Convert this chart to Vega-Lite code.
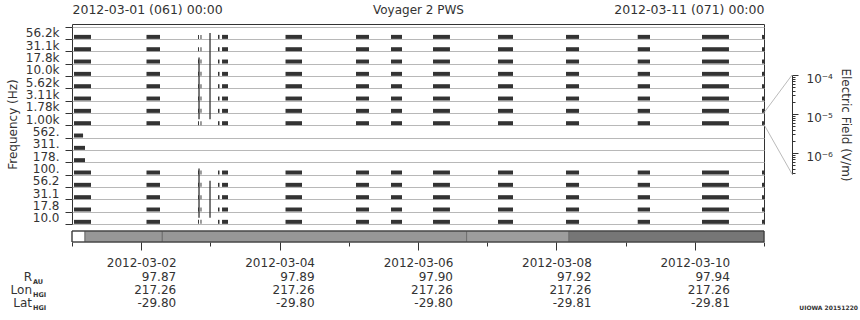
{
 "$schema": "https://vega.github.io/schema/vega-lite/v6.json",
 "width": 692,
 "height": 200,
 "autosize": "none",
 "padding": {"left": 72, "top": 24, "right": 96, "bottom": 96},
 "config": {
  "font": "DejaVu Sans",
  "view": {"stroke": "#333", "strokeWidth": 1},
  "axis": {"labelFont": "DejaVu Sans", "titleFont": "DejaVu Sans", "labelColor": "#333", "titleColor": "#333", "tickColor": "#333", "domainColor": "#333", "labelFontSize": 12, "titleFontSize": 12, "titleFontWeight": "normal", "grid": false},
  "text": {"font": "DejaVu Sans", "color": "#333"}
 },
 "resolve": {"scale": {"y": "independent"}, "axis": {"x": "independent", "y": "independent"}},
 "layer": [
  {
   "data": {"values": [
    {"c":"56.2k","s":"2012-03-01T00:42Z","e":"2012-03-01T06:35Z"},{"c":"31.1k","s":"2012-03-01T00:42Z","e":"2012-03-01T06:35Z"},{"c":"17.8k","s":"2012-03-01T00:42Z","e":"2012-03-01T06:35Z"},{"c":"10.0k","s":"2012-03-01T00:42Z","e":"2012-03-01T06:35Z"},{"c":"5.62k","s":"2012-03-01T00:42Z","e":"2012-03-01T06:35Z"},{"c":"3.11k","s":"2012-03-01T00:42Z","e":"2012-03-01T06:35Z"},{"c":"1.78k","s":"2012-03-01T00:42Z","e":"2012-03-01T06:35Z"},{"c":"1.00k","s":"2012-03-01T00:42Z","e":"2012-03-01T06:35Z"},{"c":"562.","s":"2012-03-01T00:42Z","e":"2012-03-01T03:50Z"},{"c":"311.","s":"2012-03-01T00:42Z","e":"2012-03-01T04:31Z"},{"c":"178.","s":"2012-03-01T00:42Z","e":"2012-03-01T04:31Z"},{"c":"100.","s":"2012-03-01T00:42Z","e":"2012-03-01T06:35Z"},{"c":"56.2","s":"2012-03-01T00:42Z","e":"2012-03-01T06:35Z"},{"c":"31.1","s":"2012-03-01T00:42Z","e":"2012-03-01T06:35Z"},{"c":"17.8","s":"2012-03-01T00:42Z","e":"2012-03-01T06:35Z"},{"c":"10.0","s":"2012-03-01T00:42Z","e":"2012-03-01T06:35Z"},
    {"c":"56.2k","s":"2012-03-02T01:50Z","e":"2012-03-02T06:31Z"},{"c":"31.1k","s":"2012-03-02T01:50Z","e":"2012-03-02T06:31Z"},{"c":"17.8k","s":"2012-03-02T01:50Z","e":"2012-03-02T06:31Z"},{"c":"10.0k","s":"2012-03-02T01:50Z","e":"2012-03-02T06:31Z"},{"c":"5.62k","s":"2012-03-02T01:50Z","e":"2012-03-02T06:31Z"},{"c":"3.11k","s":"2012-03-02T01:50Z","e":"2012-03-02T06:31Z"},{"c":"1.78k","s":"2012-03-02T01:50Z","e":"2012-03-02T06:31Z"},{"c":"1.00k","s":"2012-03-02T01:50Z","e":"2012-03-02T06:31Z"},{"c":"100.","s":"2012-03-02T01:50Z","e":"2012-03-02T06:31Z"},{"c":"56.2","s":"2012-03-02T01:50Z","e":"2012-03-02T06:31Z"},{"c":"31.1","s":"2012-03-02T01:50Z","e":"2012-03-02T06:31Z"},{"c":"17.8","s":"2012-03-02T01:50Z","e":"2012-03-02T06:31Z"},{"c":"10.0","s":"2012-03-02T01:50Z","e":"2012-03-02T06:31Z"},
    {"c":"56.2k","s":"2012-03-02T19:42Z","e":"2012-03-02T20:02Z"},{"c":"31.1k","s":"2012-03-02T19:42Z","e":"2012-03-02T20:02Z"},{"c":"17.8k","s":"2012-03-02T19:42Z","e":"2012-03-02T20:02Z"},{"c":"10.0k","s":"2012-03-02T19:42Z","e":"2012-03-02T20:02Z"},{"c":"5.62k","s":"2012-03-02T19:42Z","e":"2012-03-02T20:02Z"},{"c":"3.11k","s":"2012-03-02T19:42Z","e":"2012-03-02T20:02Z"},{"c":"1.78k","s":"2012-03-02T19:42Z","e":"2012-03-02T20:02Z"},{"c":"1.00k","s":"2012-03-02T19:42Z","e":"2012-03-02T20:02Z"},{"c":"100.","s":"2012-03-02T19:42Z","e":"2012-03-02T20:02Z"},{"c":"56.2","s":"2012-03-02T19:42Z","e":"2012-03-02T20:02Z"},{"c":"31.1","s":"2012-03-02T19:42Z","e":"2012-03-02T20:02Z"},{"c":"17.8","s":"2012-03-02T19:42Z","e":"2012-03-02T20:02Z"},{"c":"10.0","s":"2012-03-02T19:42Z","e":"2012-03-02T20:02Z"},
    {"c":"56.2k","s":"2012-03-02T20:34Z","e":"2012-03-02T20:54Z"},{"c":"31.1k","s":"2012-03-02T20:34Z","e":"2012-03-02T20:54Z"},{"c":"17.8k","s":"2012-03-02T20:34Z","e":"2012-03-02T20:54Z"},{"c":"10.0k","s":"2012-03-02T20:34Z","e":"2012-03-02T20:54Z"},{"c":"5.62k","s":"2012-03-02T20:34Z","e":"2012-03-02T20:54Z"},{"c":"3.11k","s":"2012-03-02T20:34Z","e":"2012-03-02T20:54Z"},{"c":"1.78k","s":"2012-03-02T20:34Z","e":"2012-03-02T20:54Z"},{"c":"1.00k","s":"2012-03-02T20:34Z","e":"2012-03-02T20:54Z"},{"c":"100.","s":"2012-03-02T20:34Z","e":"2012-03-02T20:54Z"},{"c":"56.2","s":"2012-03-02T20:34Z","e":"2012-03-02T20:54Z"},{"c":"31.1","s":"2012-03-02T20:34Z","e":"2012-03-02T20:54Z"},{"c":"17.8","s":"2012-03-02T20:34Z","e":"2012-03-02T20:54Z"},{"c":"10.0","s":"2012-03-02T20:34Z","e":"2012-03-02T20:54Z"},
    {"c":"56.2k","s":"2012-03-03T02:38Z","e":"2012-03-03T03:09Z"},{"c":"31.1k","s":"2012-03-03T02:38Z","e":"2012-03-03T03:09Z"},{"c":"17.8k","s":"2012-03-03T02:38Z","e":"2012-03-03T03:09Z"},{"c":"10.0k","s":"2012-03-03T02:38Z","e":"2012-03-03T03:09Z"},{"c":"5.62k","s":"2012-03-03T02:38Z","e":"2012-03-03T03:09Z"},{"c":"3.11k","s":"2012-03-03T02:38Z","e":"2012-03-03T03:09Z"},{"c":"1.78k","s":"2012-03-03T02:38Z","e":"2012-03-03T03:09Z"},{"c":"1.00k","s":"2012-03-03T02:38Z","e":"2012-03-03T03:09Z"},{"c":"100.","s":"2012-03-03T02:38Z","e":"2012-03-03T03:09Z"},{"c":"56.2","s":"2012-03-03T02:38Z","e":"2012-03-03T03:09Z"},{"c":"31.1","s":"2012-03-03T02:38Z","e":"2012-03-03T03:09Z"},{"c":"17.8","s":"2012-03-03T02:38Z","e":"2012-03-03T03:09Z"},{"c":"10.0","s":"2012-03-03T02:38Z","e":"2012-03-03T03:09Z"},
    {"c":"56.2k","s":"2012-03-03T04:02Z","e":"2012-03-03T06:06Z"},{"c":"31.1k","s":"2012-03-03T04:02Z","e":"2012-03-03T06:06Z"},{"c":"17.8k","s":"2012-03-03T04:02Z","e":"2012-03-03T06:06Z"},{"c":"10.0k","s":"2012-03-03T04:02Z","e":"2012-03-03T06:06Z"},{"c":"5.62k","s":"2012-03-03T04:02Z","e":"2012-03-03T06:06Z"},{"c":"3.11k","s":"2012-03-03T04:02Z","e":"2012-03-03T06:06Z"},{"c":"1.78k","s":"2012-03-03T04:02Z","e":"2012-03-03T06:06Z"},{"c":"1.00k","s":"2012-03-03T04:02Z","e":"2012-03-03T06:06Z"},{"c":"100.","s":"2012-03-03T04:02Z","e":"2012-03-03T06:06Z"},{"c":"56.2","s":"2012-03-03T04:02Z","e":"2012-03-03T06:06Z"},{"c":"31.1","s":"2012-03-03T04:02Z","e":"2012-03-03T06:06Z"},{"c":"17.8","s":"2012-03-03T04:02Z","e":"2012-03-03T06:06Z"},{"c":"10.0","s":"2012-03-03T04:02Z","e":"2012-03-03T06:06Z"},
    {"c":"56.2k","s":"2012-03-04T02:03Z","e":"2012-03-04T07:46Z"},{"c":"31.1k","s":"2012-03-04T02:03Z","e":"2012-03-04T07:46Z"},{"c":"17.8k","s":"2012-03-04T02:03Z","e":"2012-03-04T07:46Z"},{"c":"10.0k","s":"2012-03-04T02:03Z","e":"2012-03-04T07:46Z"},{"c":"5.62k","s":"2012-03-04T02:03Z","e":"2012-03-04T07:46Z"},{"c":"3.11k","s":"2012-03-04T02:03Z","e":"2012-03-04T07:46Z"},{"c":"1.78k","s":"2012-03-04T02:03Z","e":"2012-03-04T07:46Z"},{"c":"1.00k","s":"2012-03-04T02:03Z","e":"2012-03-04T07:46Z"},{"c":"100.","s":"2012-03-04T02:03Z","e":"2012-03-04T07:46Z"},{"c":"56.2","s":"2012-03-04T02:03Z","e":"2012-03-04T07:46Z"},{"c":"31.1","s":"2012-03-04T02:03Z","e":"2012-03-04T07:46Z"},{"c":"17.8","s":"2012-03-04T02:03Z","e":"2012-03-04T07:46Z"},{"c":"10.0","s":"2012-03-04T02:03Z","e":"2012-03-04T07:46Z"},
    {"c":"56.2k","s":"2012-03-05T02:30Z","e":"2012-03-05T07:00Z"},{"c":"31.1k","s":"2012-03-05T02:30Z","e":"2012-03-05T07:00Z"},{"c":"17.8k","s":"2012-03-05T02:30Z","e":"2012-03-05T07:00Z"},{"c":"10.0k","s":"2012-03-05T02:30Z","e":"2012-03-05T07:00Z"},{"c":"5.62k","s":"2012-03-05T02:30Z","e":"2012-03-05T07:00Z"},{"c":"3.11k","s":"2012-03-05T02:30Z","e":"2012-03-05T07:00Z"},{"c":"1.78k","s":"2012-03-05T02:30Z","e":"2012-03-05T07:00Z"},{"c":"1.00k","s":"2012-03-05T02:30Z","e":"2012-03-05T07:00Z"},{"c":"100.","s":"2012-03-05T02:30Z","e":"2012-03-05T07:00Z"},{"c":"56.2","s":"2012-03-05T02:30Z","e":"2012-03-05T07:00Z"},{"c":"31.1","s":"2012-03-05T02:30Z","e":"2012-03-05T07:00Z"},{"c":"17.8","s":"2012-03-05T02:30Z","e":"2012-03-05T07:00Z"},{"c":"10.0","s":"2012-03-05T02:30Z","e":"2012-03-05T07:00Z"},
    {"c":"56.2k","s":"2012-03-05T14:38Z","e":"2012-03-05T18:27Z"},{"c":"31.1k","s":"2012-03-05T14:38Z","e":"2012-03-05T18:27Z"},{"c":"17.8k","s":"2012-03-05T14:38Z","e":"2012-03-05T18:27Z"},{"c":"10.0k","s":"2012-03-05T14:38Z","e":"2012-03-05T18:27Z"},{"c":"5.62k","s":"2012-03-05T14:38Z","e":"2012-03-05T18:27Z"},{"c":"3.11k","s":"2012-03-05T14:38Z","e":"2012-03-05T18:27Z"},{"c":"1.78k","s":"2012-03-05T14:38Z","e":"2012-03-05T18:27Z"},{"c":"1.00k","s":"2012-03-05T14:38Z","e":"2012-03-05T18:27Z"},{"c":"100.","s":"2012-03-05T14:38Z","e":"2012-03-05T18:27Z"},{"c":"56.2","s":"2012-03-05T14:38Z","e":"2012-03-05T18:27Z"},{"c":"31.1","s":"2012-03-05T14:38Z","e":"2012-03-05T18:27Z"},{"c":"17.8","s":"2012-03-05T14:38Z","e":"2012-03-05T18:27Z"},{"c":"10.0","s":"2012-03-05T14:38Z","e":"2012-03-05T18:27Z"},
    {"c":"56.2k","s":"2012-03-06T05:12Z","e":"2012-03-06T11:05Z"},{"c":"31.1k","s":"2012-03-06T05:12Z","e":"2012-03-06T11:05Z"},{"c":"17.8k","s":"2012-03-06T05:12Z","e":"2012-03-06T11:05Z"},{"c":"10.0k","s":"2012-03-06T05:12Z","e":"2012-03-06T11:05Z"},{"c":"5.62k","s":"2012-03-06T05:12Z","e":"2012-03-06T11:05Z"},{"c":"3.11k","s":"2012-03-06T05:12Z","e":"2012-03-06T11:05Z"},{"c":"1.78k","s":"2012-03-06T05:12Z","e":"2012-03-06T11:05Z"},{"c":"1.00k","s":"2012-03-06T05:12Z","e":"2012-03-06T11:05Z"},{"c":"100.","s":"2012-03-06T05:12Z","e":"2012-03-06T11:05Z"},{"c":"56.2","s":"2012-03-06T05:12Z","e":"2012-03-06T11:05Z"},{"c":"31.1","s":"2012-03-06T05:12Z","e":"2012-03-06T11:05Z"},{"c":"17.8","s":"2012-03-06T05:12Z","e":"2012-03-06T11:05Z"},{"c":"10.0","s":"2012-03-06T05:12Z","e":"2012-03-06T11:05Z"},
    {"c":"56.2k","s":"2012-03-07T03:45Z","e":"2012-03-07T08:57Z"},{"c":"31.1k","s":"2012-03-07T03:45Z","e":"2012-03-07T08:57Z"},{"c":"17.8k","s":"2012-03-07T03:45Z","e":"2012-03-07T08:57Z"},{"c":"10.0k","s":"2012-03-07T03:45Z","e":"2012-03-07T08:57Z"},{"c":"5.62k","s":"2012-03-07T03:45Z","e":"2012-03-07T08:57Z"},{"c":"3.11k","s":"2012-03-07T03:45Z","e":"2012-03-07T08:57Z"},{"c":"1.78k","s":"2012-03-07T03:45Z","e":"2012-03-07T08:57Z"},{"c":"1.00k","s":"2012-03-07T03:45Z","e":"2012-03-07T08:57Z"},{"c":"100.","s":"2012-03-07T03:45Z","e":"2012-03-07T08:57Z"},{"c":"56.2","s":"2012-03-07T03:45Z","e":"2012-03-07T08:57Z"},{"c":"31.1","s":"2012-03-07T03:45Z","e":"2012-03-07T08:57Z"},{"c":"17.8","s":"2012-03-07T03:45Z","e":"2012-03-07T08:57Z"},{"c":"10.0","s":"2012-03-07T03:45Z","e":"2012-03-07T08:57Z"},
    {"c":"56.2k","s":"2012-03-08T03:20Z","e":"2012-03-08T07:51Z"},{"c":"31.1k","s":"2012-03-08T03:20Z","e":"2012-03-08T07:51Z"},{"c":"17.8k","s":"2012-03-08T03:20Z","e":"2012-03-08T07:51Z"},{"c":"10.0k","s":"2012-03-08T03:20Z","e":"2012-03-08T07:51Z"},{"c":"5.62k","s":"2012-03-08T03:20Z","e":"2012-03-08T07:51Z"},{"c":"3.11k","s":"2012-03-08T03:20Z","e":"2012-03-08T07:51Z"},{"c":"1.78k","s":"2012-03-08T03:20Z","e":"2012-03-08T07:51Z"},{"c":"1.00k","s":"2012-03-08T03:20Z","e":"2012-03-08T07:51Z"},{"c":"100.","s":"2012-03-08T03:20Z","e":"2012-03-08T07:51Z"},{"c":"56.2","s":"2012-03-08T03:20Z","e":"2012-03-08T07:51Z"},{"c":"31.1","s":"2012-03-08T03:20Z","e":"2012-03-08T07:51Z"},{"c":"17.8","s":"2012-03-08T03:20Z","e":"2012-03-08T07:51Z"},{"c":"10.0","s":"2012-03-08T03:20Z","e":"2012-03-08T07:51Z"},
    {"c":"56.2k","s":"2012-03-09T04:12Z","e":"2012-03-09T08:28Z"},{"c":"31.1k","s":"2012-03-09T04:12Z","e":"2012-03-09T08:28Z"},{"c":"17.8k","s":"2012-03-09T04:12Z","e":"2012-03-09T08:28Z"},{"c":"10.0k","s":"2012-03-09T04:12Z","e":"2012-03-09T08:28Z"},{"c":"5.62k","s":"2012-03-09T04:12Z","e":"2012-03-09T08:28Z"},{"c":"3.11k","s":"2012-03-09T04:12Z","e":"2012-03-09T08:28Z"},{"c":"1.78k","s":"2012-03-09T04:12Z","e":"2012-03-09T08:28Z"},{"c":"1.00k","s":"2012-03-09T04:12Z","e":"2012-03-09T08:28Z"},{"c":"100.","s":"2012-03-09T04:12Z","e":"2012-03-09T08:28Z"},{"c":"56.2","s":"2012-03-09T04:12Z","e":"2012-03-09T08:28Z"},{"c":"31.1","s":"2012-03-09T04:12Z","e":"2012-03-09T08:28Z"},{"c":"17.8","s":"2012-03-09T04:12Z","e":"2012-03-09T08:28Z"},{"c":"10.0","s":"2012-03-09T04:12Z","e":"2012-03-09T08:28Z"},
    {"c":"56.2k","s":"2012-03-10T02:30Z","e":"2012-03-10T11:51Z"},{"c":"31.1k","s":"2012-03-10T02:30Z","e":"2012-03-10T11:51Z"},{"c":"17.8k","s":"2012-03-10T02:30Z","e":"2012-03-10T11:51Z"},{"c":"10.0k","s":"2012-03-10T02:30Z","e":"2012-03-10T11:51Z"},{"c":"5.62k","s":"2012-03-10T02:30Z","e":"2012-03-10T11:51Z"},{"c":"3.11k","s":"2012-03-10T02:30Z","e":"2012-03-10T11:51Z"},{"c":"1.78k","s":"2012-03-10T02:30Z","e":"2012-03-10T11:51Z"},{"c":"1.00k","s":"2012-03-10T02:30Z","e":"2012-03-10T11:51Z"},{"c":"100.","s":"2012-03-10T02:30Z","e":"2012-03-10T11:51Z"},{"c":"56.2","s":"2012-03-10T02:30Z","e":"2012-03-10T11:51Z"},{"c":"31.1","s":"2012-03-10T02:30Z","e":"2012-03-10T11:51Z"},{"c":"17.8","s":"2012-03-10T02:30Z","e":"2012-03-10T11:51Z"},{"c":"10.0","s":"2012-03-10T02:30Z","e":"2012-03-10T11:51Z"},
    {"c":"56.2k","s":"2012-03-10T23:18Z","e":"2012-03-11T00:00Z"},{"c":"31.1k","s":"2012-03-10T23:18Z","e":"2012-03-11T00:00Z"},{"c":"17.8k","s":"2012-03-10T23:18Z","e":"2012-03-11T00:00Z"},{"c":"10.0k","s":"2012-03-10T23:18Z","e":"2012-03-11T00:00Z"},{"c":"5.62k","s":"2012-03-10T23:18Z","e":"2012-03-11T00:00Z"},{"c":"3.11k","s":"2012-03-10T23:18Z","e":"2012-03-11T00:00Z"},{"c":"1.78k","s":"2012-03-10T23:18Z","e":"2012-03-11T00:00Z"},{"c":"1.00k","s":"2012-03-10T23:18Z","e":"2012-03-11T00:00Z"},{"c":"100.","s":"2012-03-10T23:18Z","e":"2012-03-11T00:00Z"},{"c":"56.2","s":"2012-03-10T23:18Z","e":"2012-03-11T00:00Z"},{"c":"31.1","s":"2012-03-10T23:18Z","e":"2012-03-11T00:00Z"},{"c":"17.8","s":"2012-03-10T23:18Z","e":"2012-03-11T00:00Z"},{"c":"10.0","s":"2012-03-10T23:18Z","e":"2012-03-11T00:00Z"}
   ]},
   "mark": {"type": "bar", "orient": "horizontal", "size": 4, "yOffset": 4, "color": "#333"},
   "encoding": {
    "x": {"field": "s", "type": "temporal",
     "scale": {"type": "utc", "domain": [{"year": 2012, "month": 3, "date": 1, "utc": true}, {"year": 2012, "month": 3, "date": 11, "utc": true}]},
     "axis": {"orient": "top", "values": [{"year": 2012, "month": 3, "date": 1, "utc": true}, {"year": 2012, "month": 3, "date": 11, "utc": true}], "labelFlush": true, "labelOverlap": false, "labelExpr": "utcFormat(datum.value, '%Y-%m-%d (%j) %H:%M')", "ticks": false, "domain": false, "labelPadding": 8, "labelFontSize": 12.5, "title": "Voyager 2 PWS", "titleY": -11, "titleBaseline": "alphabetic"}},
    "x2": {"field": "e"},
    "y": {"field": "c", "type": "ordinal",
     "scale": {"domain": ["56.2k","31.1k","17.8k","10.0k","5.62k","3.11k","1.78k","1.00k","562.","311.","178.","100.","56.2","31.1","17.8","10.0"], "paddingInner": 0, "paddingOuter": 0.11, "align": 1},
     "axis": {"title": "Frequency (Hz)", "tickBand": "extent", "grid": true, "gridColor": "#b8b8b8", "domain": false, "tickSize": 7, "labelPadding": 6, "labelOverlap": false, "titlePadding": 6}}
   }
  },
  {
   "data": {"values": [
    {"t": "2012-03-02T23:52Z", "c1": "56.2k", "c2": "1.00k"},
    {"t": "2012-03-02T23:52Z", "c1": "56.2", "c2": "10.0"},
    {"t": "2012-03-02T20:03Z", "c1": "17.8k", "c2": "1.00k"},
    {"t": "2012-03-02T20:03Z", "c1": "100.", "c2": "10.0"}
   ]},
   "mark": {"type": "rule", "color": "#333", "strokeWidth": 1.3},
   "encoding": {
    "x": {"field": "t", "type": "temporal", "scale": {"type": "utc", "domain": [{"year": 2012, "month": 3, "date": 1, "utc": true}, {"year": 2012, "month": 3, "date": 11, "utc": true}]}, "axis": null},
    "y": {"field": "c1", "type": "ordinal", "scale": {"domain": ["56.2k","31.1k","17.8k","10.0k","5.62k","3.11k","1.78k","1.00k","562.","311.","178.","100.","56.2","31.1","17.8","10.0"], "paddingInner": 0, "paddingOuter": 0.11, "align": 1}, "axis": null},
    "y2": {"field": "c2"}
   }
  },
  {
   "data": {"values": [
    {"s": "2012-03-01T00:00Z", "e": "2012-03-01T04:31Z", "mode": "0"},
    {"s": "2012-03-01T04:31Z", "e": "2012-03-02T07:19Z", "mode": "1"},
    {"s": "2012-03-02T07:19Z", "e": "2012-03-06T16:52Z", "mode": "1"},
    {"s": "2012-03-06T16:52Z", "e": "2012-03-08T04:22Z", "mode": "2"},
    {"s": "2012-03-08T04:22Z", "e": "2012-03-11T00:00Z", "mode": "3"}
   ]},
   "mark": {"type": "rect", "stroke": "#6e6e6e", "strokeWidth": 1},
   "encoding": {
    "x": {"field": "s", "type": "temporal", "scale": {"type": "utc", "domain": [{"year": 2012, "month": 3, "date": 1, "utc": true}, {"year": 2012, "month": 3, "date": 11, "utc": true}]},
     "axis": {"orient": "bottom", "offset": 18, "values": [{"year": 2012, "month": 3, "date": 1, "utc": true}, {"year": 2012, "month": 3, "date": 2, "utc": true}, {"year": 2012, "month": 3, "date": 3, "utc": true}, {"year": 2012, "month": 3, "date": 4, "utc": true}, {"year": 2012, "month": 3, "date": 5, "utc": true}, {"year": 2012, "month": 3, "date": 6, "utc": true}, {"year": 2012, "month": 3, "date": 7, "utc": true}, {"year": 2012, "month": 3, "date": 8, "utc": true}, {"year": 2012, "month": 3, "date": 9, "utc": true}, {"year": 2012, "month": 3, "date": 10, "utc": true}, {"year": 2012, "month": 3, "date": 11, "utc": true}], "labels": false, "tickSize": 4, "domain": false, "title": null}},
    "x2": {"field": "e"},
    "y": {"datum": 0, "type": "quantitative", "scale": {"domain": [0, 1], "range": [218, 207]}, "axis": null},
    "y2": {"datum": 1},
    "color": {"field": "mode", "type": "nominal", "scale": {"domain": ["0", "1", "2", "3"], "range": ["#ffffff", "#979797", "#9d9d9d", "#767676"]}, "legend": null}
   }
  },
  {
   "data": {"values": [{}]},
   "mark": {"type": "rect", "fill": "transparent", "stroke": "#333", "strokeWidth": 1},
   "encoding": {
    "x": {"datum": {"year": 2012, "month": 3, "date": 1, "utc": true}, "type": "temporal", "scale": {"type": "utc", "domain": [{"year": 2012, "month": 3, "date": 1, "utc": true}, {"year": 2012, "month": 3, "date": 11, "utc": true}]},
     "axis": {"orient": "bottom", "offset": 18, "values": [{"year": 2012, "month": 3, "date": 2, "utc": true}, {"year": 2012, "month": 3, "date": 4, "utc": true}, {"year": 2012, "month": 3, "date": 6, "utc": true}, {"year": 2012, "month": 3, "date": 8, "utc": true}, {"year": 2012, "month": 3, "date": 10, "utc": true}], "labelExpr": "utcFormat(datum.value, '%Y-%m-%d')", "tickSize": 8, "labelPadding": 7, "domain": false, "title": null, "labelOverlap": false, "labelFlush": false}},
    "x2": {"datum": {"year": 2012, "month": 3, "date": 11, "utc": true}},
    "y": {"datum": 0, "type": "quantitative", "scale": {"domain": [0, 1], "range": [218, 207]}, "axis": null},
    "y2": {"datum": 1}
   }
  },
  {
   "data": {"values": [
    {"d": "2012-03-02T00:00Z", "R": "97.87", "Lon": "217.26", "Lat": "-29.80"},
    {"d": "2012-03-04T00:00Z", "R": "97.89", "Lon": "217.26", "Lat": "-29.80"},
    {"d": "2012-03-06T00:00Z", "R": "97.90", "Lon": "217.26", "Lat": "-29.80"},
    {"d": "2012-03-08T00:00Z", "R": "97.92", "Lon": "217.26", "Lat": "-29.81"},
    {"d": "2012-03-10T00:00Z", "R": "97.94", "Lon": "217.26", "Lat": "-29.81"}
   ]},
   "transform": [{"fold": ["R", "Lon", "Lat"], "as": ["k", "v"]}],
   "mark": {"type": "text", "align": "right", "dx": 35, "baseline": "alphabetic", "fontSize": 12, "color": "#333"},
   "encoding": {
    "x": {"field": "d", "type": "temporal", "scale": {"type": "utc", "domain": [{"year": 2012, "month": 3, "date": 1, "utc": true}, {"year": 2012, "month": 3, "date": 11, "utc": true}]}, "axis": null},
    "y": {"field": "k", "type": "nominal", "scale": {"type": "point", "domain": ["R", "Lon", "Lat"], "range": [256.8, 283.2], "padding": 0}, "axis": null},
    "text": {"field": "v", "type": "nominal"}
   }
  },
  {
   "data": {"values": [{"k": "R", "sub": "AU"}, {"k": "Lon", "sub": "HGI"}, {"k": "Lat", "sub": "HGI"}]},
   "mark": {"type": "text", "align": "right", "dx": -40, "baseline": "alphabetic", "fontSize": 12, "color": "#333"},
   "encoding": {
    "x": {"datum": {"year": 2012, "month": 3, "date": 1, "utc": true}, "type": "temporal", "scale": {"type": "utc", "domain": [{"year": 2012, "month": 3, "date": 1, "utc": true}, {"year": 2012, "month": 3, "date": 11, "utc": true}]}, "axis": null},
    "y": {"field": "k", "type": "nominal", "scale": {"type": "point", "domain": ["R", "Lon", "Lat"], "range": [256.8, 283.2], "padding": 0}, "axis": null},
    "text": {"field": "k", "type": "nominal"}
   }
  },
  {
   "data": {"values": [{"k": "R", "sub": "AU"}, {"k": "Lon", "sub": "HGI"}, {"k": "Lat", "sub": "HGI"}]},
   "mark": {"type": "text", "align": "left", "dx": -39, "dy": 3, "baseline": "alphabetic", "fontSize": 6.5, "fontWeight": "bold", "color": "#333"},
   "encoding": {
    "x": {"datum": {"year": 2012, "month": 3, "date": 1, "utc": true}, "type": "temporal", "scale": {"type": "utc", "domain": [{"year": 2012, "month": 3, "date": 1, "utc": true}, {"year": 2012, "month": 3, "date": 11, "utc": true}]}, "axis": null},
    "y": {"field": "k", "type": "nominal", "scale": {"type": "point", "domain": ["R", "Lon", "Lat"], "range": [256.8, 283.2], "padding": 0}, "axis": null},
    "text": {"field": "sub", "type": "nominal"}
   }
  },
  {
   "data": {"values": [
    {"t1": "2012-03-11T00:00Z", "t2": "2012-03-11T09:43Z", "v1": 1.08e-5, "v2": 1e-4},
    {"t1": "2012-03-11T00:00Z", "t2": "2012-03-11T09:43Z", "v1": 5.38e-6, "v2": 2.9e-7}
   ]},
   "mark": {"type": "rule", "color": "#bbbbbb", "strokeWidth": 1},
   "encoding": {
    "x": {"field": "t1", "type": "temporal", "scale": {"type": "utc", "domain": [{"year": 2012, "month": 3, "date": 1, "utc": true}, {"year": 2012, "month": 3, "date": 11, "utc": true}]}, "axis": null},
    "x2": {"field": "t2"},
    "y": {"field": "v1", "type": "quantitative", "scale": {"type": "log", "domain": [2.9e-7, 1e-4], "range": [150, 51]},
     "axis": {"orient": "right", "offset": 28, "values": [1e-4, 9e-5, 8e-5, 7e-5, 6e-5, 5e-5, 4e-5, 3e-5, 2e-5, 1e-5, 9e-6, 8e-6, 7e-6, 6e-6, 5e-6, 4e-6, 3e-6, 2e-6, 1e-6, 9e-7, 8e-7, 7e-7, 6e-7, 5e-7, 4e-7, 3e-7],
      "labelExpr": "datum.value == 1e-4 ? '10⁻⁴' : datum.value == 1e-5 ? '10⁻⁵' : datum.value == 1e-6 ? '10⁻⁶' : ''",
      "tickSize": {"condition": {"test": "datum.value == 1e-4 || datum.value == 1e-5 || datum.value == 1e-6", "value": 6}, "value": 3},
      "labelPadding": 8, "labelOffset": 3, "labelOverlap": false, "labelBound": false, "title": "Electric Field (V/m)", "titlePadding": 6, "grid": false}},
    "y2": {"field": "v2"}
   }
  },
  {
   "data": {"values": [{"k": "Lat", "txt": "UIOWA 20151220"}]},
   "mark": {"type": "text", "align": "right", "dx": 94, "dy": 3, "baseline": "alphabetic", "fontSize": 6, "fontWeight": "bold", "color": "#333"},
   "encoding": {
    "x": {"datum": {"year": 2012, "month": 3, "date": 11, "utc": true}, "type": "temporal", "scale": {"type": "utc", "domain": [{"year": 2012, "month": 3, "date": 1, "utc": true}, {"year": 2012, "month": 3, "date": 11, "utc": true}]}, "axis": null},
    "y": {"field": "k", "type": "nominal", "scale": {"type": "point", "domain": ["R", "Lon", "Lat"], "range": [256.8, 283.2], "padding": 0}, "axis": null},
    "text": {"field": "txt", "type": "nominal"}
   }
  }
 ]
}
